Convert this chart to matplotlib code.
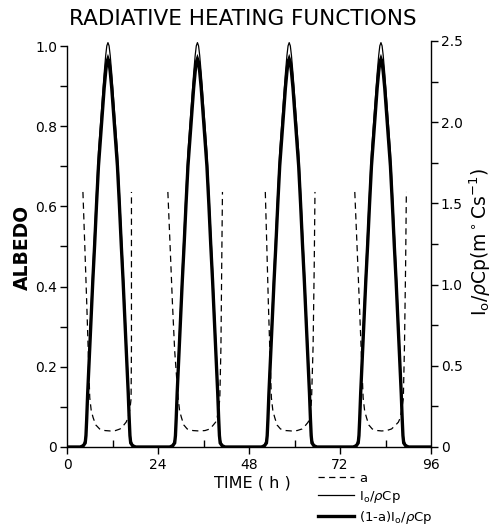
import matplotlib
matplotlib.use("Agg")
import matplotlib.pyplot as plt
import numpy as np

# ---------------- data ----------------
# hours for the I0/rhoCp and (1-a)I0/rhoCp curves, one list per day
day1_t = [3.5, 4.3, 4.8, 5.0, 5.2, 5.45, 5.8, 6.3, 6.8, 7.3, 7.8, 8.3, 8.8, 9.3, 9.8, 10.2, 10.5,
          10.8, 11.1, 11.4, 11.8, 12.3, 12.8, 13.3, 13.8, 14.3, 14.8, 15.3, 15.8, 16.15, 16.4,
          16.6, 16.8, 17.3, 18.1]
day2_t = [27.1, 27.9, 28.4, 28.6, 28.8, 29.05, 29.4, 29.9, 30.4, 30.9, 31.4, 31.9, 32.4, 32.9,
          33.4, 33.8, 34.1, 34.4, 34.7, 35.0, 35.4, 35.9, 36.4, 36.9, 37.4, 37.9, 38.4, 38.9,
          39.4, 39.75, 40.0, 40.2, 40.4, 40.9, 41.7]
day3_t = [51.3, 52.1, 52.6, 52.8, 53.0, 53.25, 53.6, 54.1, 54.6, 55.1, 55.6, 56.1, 56.6, 57.1,
          57.6, 58.0, 58.3, 58.6, 58.9, 59.2, 59.6, 60.1, 60.6, 61.1, 61.6, 62.1, 62.6, 63.1,
          63.6, 63.95, 64.2, 64.4, 64.6, 65.1, 65.9]
day4_t = [75.5, 76.3, 76.8, 77.0, 77.2, 77.45, 77.8, 78.3, 78.8, 79.3, 79.8, 80.3, 80.8, 81.3,
          81.8, 82.2, 82.5, 82.8, 83.1, 83.4, 83.8, 84.3, 84.8, 85.3, 85.8, 86.3, 86.8, 87.3,
          87.8, 88.15, 88.4, 88.6, 88.8, 89.3, 90.1]

# I0/rhoCp (m degC s^-1) over one day
i0_day = [0, 0.015, 0.045, 0.10, 0.22, 0.38, 0.57, 0.83, 1.09, 1.33, 1.58, 1.82, 1.98, 2.14,
          2.30, 2.41, 2.47, 2.49, 2.47, 2.41, 2.30, 2.14, 1.98, 1.82, 1.58, 1.33, 1.09, 0.83,
          0.57, 0.38, 0.22, 0.10, 0.045, 0.015, 0]
# (1-a)I0/rhoCp over one day
net_day = [0, 0.008, 0.025, 0.07, 0.175, 0.33, 0.51, 0.765, 1.02, 1.25, 1.50, 1.73, 1.89, 2.05,
           2.21, 2.31, 2.37, 2.39, 2.37, 2.31, 2.21, 2.05, 1.89, 1.73, 1.50, 1.25, 1.02, 0.765,
           0.51, 0.33, 0.175, 0.07, 0.025, 0.008, 0]

time_h = [0.0] + day1_t + day2_t + day3_t + day4_t + [96.0]
i0 = [0.0] + i0_day + i0_day + i0_day + i0_day + [0.0]
net = [0.0] + net_day + net_day + net_day + net_day + [0.0]

# albedo (daytime only)
alb_t1 = [4.2, 4.7, 5.2, 5.6, 6.0, 6.4, 6.9, 7.6, 8.6, 10.0, 11.4, 12.8, 14.0, 15.0,
          15.6, 16.1, 16.6, 16.9, 17.0, 17.0, 17.0]
alb_t2 = [26.6, 27.2, 27.8, 28.4, 29.3, 29.7, 30.2, 30.8, 31.7, 33.2, 34.8, 36.4, 37.7, 38.6,
          39.2, 39.6, 40.0, 40.3, 40.6, 40.8, 41.0]
alb_t3 = [52.3, 52.7, 53.1, 53.5, 53.9, 54.3, 54.8, 55.4, 56.3, 57.7, 59.2, 60.7, 62.0, 63.0,
          63.6, 64.0, 64.3, 64.5, 64.9, 65.2, 65.4]
alb_t4 = [75.9, 76.5, 77.1, 77.6, 78.1, 78.5, 79.0, 79.6, 80.5, 81.9, 83.0, 84.3, 85.6, 86.7,
          87.4, 87.9, 88.3, 88.7, 89.0, 89.3, 89.5]
albedo_day = [0.636, 0.50, 0.36, 0.24, 0.123, 0.09, 0.073, 0.055, 0.045, 0.041, 0.040, 0.041,
              0.045, 0.055, 0.062, 0.073, 0.095, 0.12, 0.25, 0.45, 0.636]
albedo_times = [alb_t1, alb_t2, alb_t3, alb_t4]

x_ticks = [0, 24, 48, 72, 96]
x_minor = [12, 36, 60, 84]
left_ticks = [0, 0.2, 0.4, 0.6, 0.8, 1.0]
left_labels = ["0", "0.2", "0.4", "0.6", "0.8", "1.0"]
right_ticks = [0, 0.5, 1.0, 1.5, 2.0, 2.5]
right_labels = ["0", "0.5", "1.0", "1.5", "2.0", "2.5"]

# ---------------- figure ----------------
W, H = 493, 531
fig = plt.figure(figsize=(W / 100, H / 100), dpi=100)
ax = fig.add_axes([67 / W, (H - 447) / H, 364 / W, 406 / H])
ax.set_xlim(0, 96)
ax.set_ylim(0, 406 / 401)
ax2 = ax.twinx()
ax2.set_ylim(0, 2.5)

for sp in ["top", "right"]:
    ax.spines[sp].set_visible(False)
for sp in ["top", "left", "bottom"]:
    ax2.spines[sp].set_visible(False)
ax.spines["left"].set_bounds(0, 1.0)
for a_ in (ax, ax2):
    for sp in a_.spines.values():
        sp.set_linewidth(1.0)

# albedo (dashed)
line_a = None
for tt in albedo_times:
    l, = ax.plot(tt, albedo_day, color="black", lw=0.9, dashes=(5, 3.5))
    if line_a is None:
        line_a = l

line_i0, = ax2.plot(time_h, i0, color="black", lw=0.9)
line_net, = ax2.plot(time_h, net, color="black", lw=2.4, solid_joinstyle="miter")

# ticks
ax.set_xticks(x_ticks)
ax.set_xticks(x_minor, minor=True)
ax.set_yticks(left_ticks)
ax.set_yticklabels(left_labels)
ax.set_yticks(np.arange(0.1, 1.0, 0.2), minor=True)
ax2.set_yticks(right_ticks)
ax2.set_yticklabels(right_labels)
ax2.set_yticks([0.25, 0.75, 1.25, 1.75, 2.25], minor=True)

ax.tick_params(axis="x", which="major", direction="out", length=5, width=1, labelsize=10, pad=3)
ax.tick_params(axis="x", which="minor", direction="in", length=5, width=1)
ax.tick_params(axis="y", which="both", direction="out", length=5, width=1, labelsize=10, pad=2)
ax2.tick_params(axis="y", which="both", direction="out", length=5, width=1, labelsize=10, pad=2)

# texts
fig.text(243 / W, 1 - 19 / H, "RADIATIVE HEATING FUNCTIONS", ha="center", va="center",
         fontsize=15.5)
fig.text(252 / W, 1 - 483 / H, "TIME ( h )", ha="center", va="center", fontsize=11.5)
fig.text(22 / W, 1 - 247 / H, "ALBEDO", ha="center", va="center", rotation=90,
         fontsize=13.5, fontweight="bold")
fig.text(480 / W, 1 - 242 / H, r"I$_\mathrm{o}$/$\rho$Cp(m$^\circ$Cs$^{-1}$)", ha="center",
         va="center", rotation=90, fontsize=13.5)

leg = fig.legend([line_a, line_i0, line_net],
                 ["a", r"I$_\mathrm{o}$/$\rho$Cp", r"(1-a)I$_\mathrm{o}$/$\rho$Cp"],
                 loc="upper left", bbox_to_anchor=(318 / W, 1 - 472 / H),
                 frameon=False, fontsize=9.5, handlelength=2.7, handletextpad=0.4,
                 labelspacing=0.3, borderpad=0, borderaxespad=0)

fig.savefig("out.png", dpi=100)
